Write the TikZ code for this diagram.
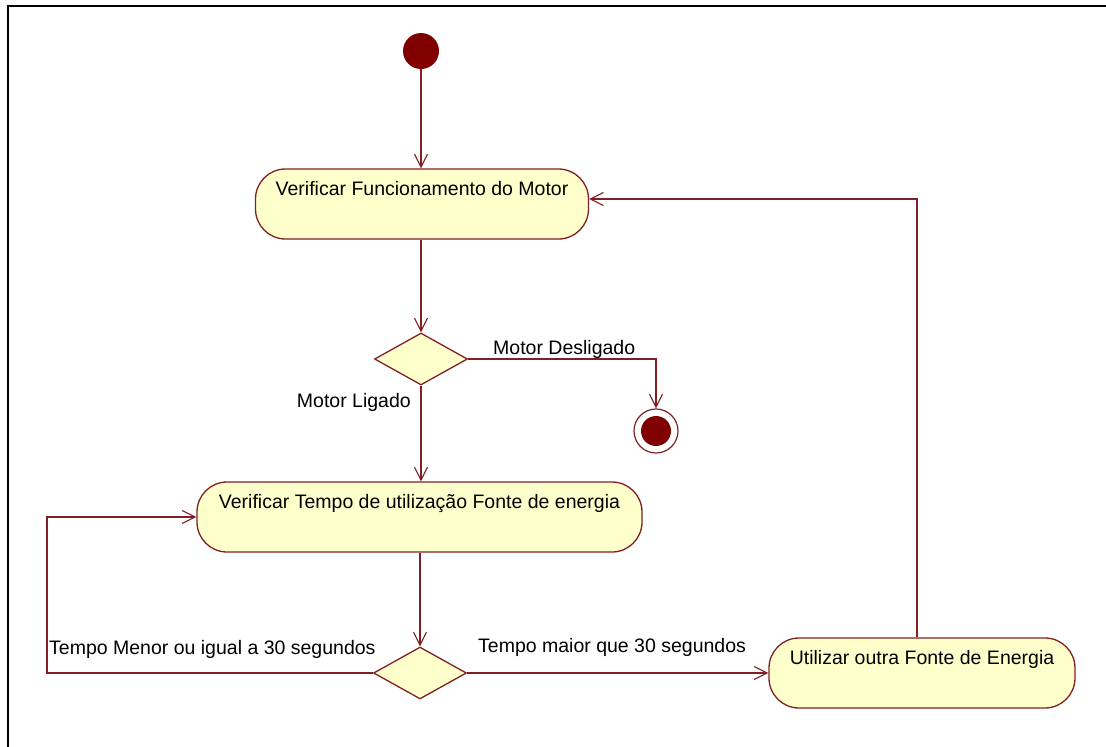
\documentclass[tikz,border=0pt]{standalone}
\usepackage{fontspec}
\setmainfont{Liberation Sans}
\usetikzlibrary{shapes.geometric,arrows.meta}
\definecolor{umlline}{RGB}{128,32,36}
\definecolor{umlfill}{RGB}{255,255,204}
\definecolor{umldot}{RGB}{128,0,0}
\begin{document}
\begin{tikzpicture}[x=1pt,y=-1pt,
  every node/.style={font=\fontsize{19.5}{23}\selectfont},
  activity/.style={draw=umlline, fill=umlfill, line width=1.3pt,
    rounded corners=30pt, inner xsep=0pt, inner ysep=0pt,
    text height=26.5pt, text depth=43.5pt, minimum height=70pt},
  decision/.style={diamond, draw=umlline, fill=umlfill, line width=1.3pt,
    inner sep=0pt, minimum width=93pt, minimum height=52pt},
  initial/.style={circle, fill=umldot, inner sep=0pt, minimum size=36pt},
  final/.style={circle, draw=umlline, line width=1.2pt, inner sep=0pt,
    minimum size=44pt,
    path picture={\fill[umldot] (path picture bounding box.center) circle (15pt);}},
  flow/.style={draw=umlline, line width=1.3pt,
    -{Straight Barb[length=13pt,width=13pt,line width=1.1pt]}},
  guard/.style={inner sep=0pt, text=black}]

\useasboundingbox (0,0) rectangle (1106,747);
\clip (0,0) rectangle (1106,747);

% outer frame (top and left edges)
\draw[black, line width=2pt] (8,760) -- (8,6) -- (1120,6);

% activity nodes
\node[initial] (start) at (421,51) {};
\node[activity, minimum width=333pt] (motor) at (422,204) {Verificar Funcionamento do Motor};
\node[decision] (d1) at (421,359) {};
\node[final] (end) at (656,431) {};
\node[activity, minimum width=445pt] (tempo) at (419.5,517) {Verificar Tempo de utilização Fonte de energia};
\node[decision] (d2) at (420,673) {};
\node[activity, minimum width=306pt] (outra) at (922,673) {Utilizar outra Fonte de Energia};

% routing points
\coordinate (loopL) at (47,0);
\coordinate (ret) at (917,199);

% transitions
\draw[flow] (start.south) -- (start.south |- motor.north);
\draw[flow] (d1.north |- motor.south) -- (d1.north);
\draw[flow] (d1.east) -| (end.north);
\draw[flow] (d1.south) -- (d1.south |- tempo.north);
\draw[flow] (d2.north |- tempo.south) -- (d2.north);
\draw[flow] (d2.west) -| (loopL |- tempo.west) -- (tempo.west);
\draw[flow] (d2.east) -- (outra.west);
\draw[flow] (outra.north -| ret) -- (ret) -- (motor.east |- ret);

% guard labels
\node[guard, anchor=base west] (lDes) at (493,354) {Motor Desligado};
\node[guard, anchor=base east] (lLig) at (411,407) {Motor Ligado};
\node[guard, anchor=base west] (lMenor) at (49,654) {Tempo Menor ou igual a 30 segundos};
\node[guard, anchor=base west] (lMaior) at (478,652) {Tempo maior que 30 segundos};
\end{tikzpicture}
\end{document}
